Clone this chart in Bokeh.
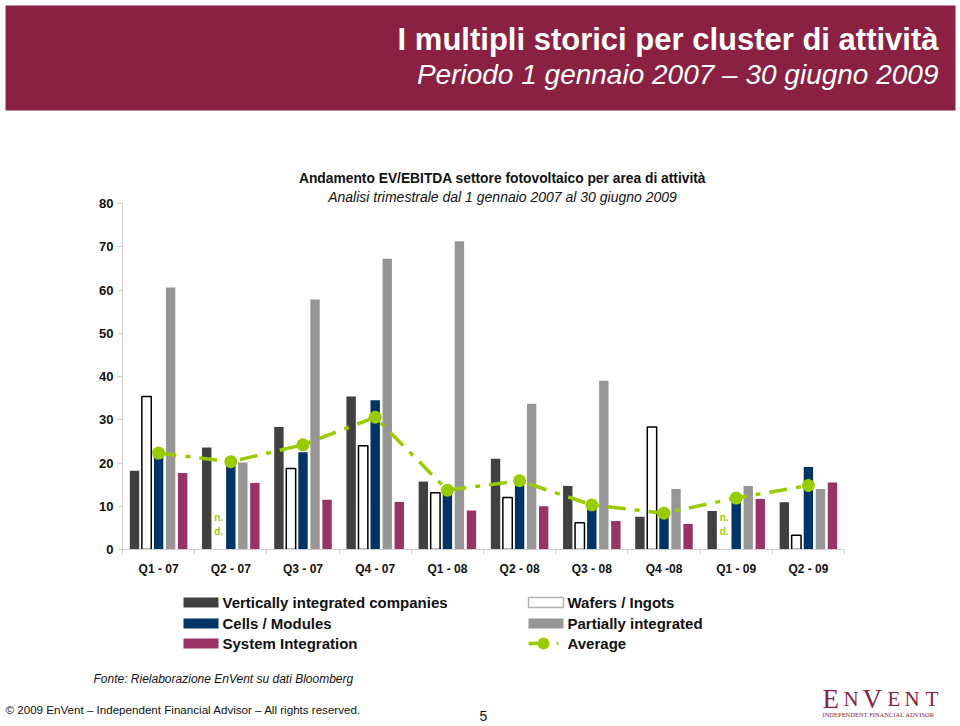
import numpy as np
from bokeh.plotting import figure
from bokeh.models import (Range1d, LinearAxis, FixedTicker, Label, BoxAnnotation,
                          ColumnDataSource)
from bokeh.layouts import column
from bokeh.transform import dodge
from bokeh.core.properties import value
from bokeh.embed import file_html
from bokeh.resources import INLINE

# ---------------- data ----------------
categories = ["Q1 - 07", "Q2 - 07", "Q3 - 07", "Q4 - 07", "Q1 - 08",
              "Q2 - 08", "Q3 - 08", "Q4 -08", "Q1 - 09", "Q2 - 09"]
vertically_integrated = [18.2, 23.6, 28.3, 35.4, 15.7, 21.0, 14.7, 7.6, 8.9, 10.9]
wafers_ingots = [35.4, None, 18.7, 24.0, 13.1, 12.0, 6.2, 28.3, None, 3.3]
cells_modules = [23.2, 20.0, 22.5, 34.5, 13.5, 15.6, 10.0, 8.3, 11.9, 19.1]
partially_integrated = [60.6, 20.1, 57.8, 67.2, 71.3, 33.7, 39.0, 14.0, 14.7, 14.0]
system_integration = [17.7, 15.4, 11.5, 11.0, 9.0, 10.0, 6.6, 5.9, 11.7, 15.5]
average = [22.3, 20.3, 24.2, 30.6, 13.7, 15.9, 10.3, 8.4, 11.9, 14.8]
y_ticks = [0, 10, 20, 30, 40, 50, 60, 70, 80]

# ---------------- styles ----------------
W = 960
TOTAL_H = 726
MAROON = "#8B2142"
C_VI = "#404040"
C_CELLS = "#003366"
C_PART = "#969696"
C_SYS = "#993366"
GREEN = "#99CC00"
AXIS = "#d0d0d0"
FONT = "Liberation Sans"
NARROW = "Liberation Sans Narrow, Liberation Sans, Arial"
SERIF = "Liberation Serif"


def blank(height):
    f = figure(width=W, height=height, x_range=Range1d(0, W), y_range=Range1d(height, 0),
               x_axis_type=None, y_axis_type=None, toolbar_location=None,
               output_backend="svg", min_border=0, outline_line_color=None,
               frame_align=False)
    f.grid.visible = False
    f.background_fill_color = "white"
    f.border_fill_color = "white"
    return f


# ---------------- header ----------------
HH = 120
hdr = blank(HH)
hdr.add_layout(BoxAnnotation(left=5, right=955, top=5, bottom=110, fill_color=MAROON,
                             fill_alpha=1, line_color=None))
hdr.add_layout(Label(x=938, y=39, text="I multipli storici per cluster di attività",
                     text_align="right", text_baseline="middle", text_color="white",
                     text_font=NARROW, text_font_style="bold", text_font_size="31px"))
hdr.add_layout(Label(x=938, y=74, text="Periodo 1 gennaio 2007 \u2013 30 giugno 2009",
                     text_align="right", text_baseline="middle", text_color="white",
                     text_font=NARROW, text_font_style="italic", text_font_size="28px"))

# ---------------- chart ----------------
CH = 465
n = len(categories)
frame_h = CH - 36
px_per_unit = (frame_h - 83) / 80.0
ymax = frame_h / px_per_unit

ch = figure(width=W, height=CH, x_range=Range1d(-0.5, n - 0.5), y_range=Range1d(0, ymax),
            x_axis_type=None, y_axis_type=None, toolbar_location=None, output_backend="svg",
            min_border_left=122, min_border_right=116, min_border_top=0, min_border_bottom=36,
            outline_line_color=None, frame_align=False)
ch.grid.visible = False

def arr(v):
    return np.array([np.nan if x is None else x for x in v], dtype=float)

src = ColumnDataSource(dict(
    x=np.arange(n),
    vi=arr(vertically_integrated),
    wa=arr(wafers_ingots),
    ce=arr(cells_modules),
    pa=arr(partially_integrated),
    sy=arr(system_integration),
    avg=arr(average),
))

BW = 0.13
step = 1 / 6
ch.vbar(x=dodge("x", -2 * step, range=ch.x_range), top="vi", width=BW, source=src,
        fill_color=C_VI, line_color=None)
ch.vbar(x=dodge("x", -step, range=ch.x_range), top="wa", width=BW, source=src,
        fill_color="white", line_color="black", line_width=1.5)
ch.vbar(x=dodge("x", 0, range=ch.x_range), top="ce", width=BW, source=src,
        fill_color=C_CELLS, line_color=None)
ch.vbar(x=dodge("x", step, range=ch.x_range), top="pa", width=BW, source=src,
        fill_color=C_PART, line_color=None)
ch.vbar(x=dodge("x", 2 * step, range=ch.x_range), top="sy", width=BW, source=src,
        fill_color=C_SYS, line_color=None)

ch.line(x="x", y="avg", source=src, line_color=GREEN, line_width=3.5, line_dash="18 9 5 9")
ch.scatter(x="x", y="avg", source=src, size=13, fill_color=GREEN, line_color=None)

# n.d. labels where wafers data missing
nd_idx = [i for i, v in enumerate(wafers_ingots) if v is None]
nd_src = ColumnDataSource(dict(x=nd_idx, y=[5.7] * len(nd_idx), t=["n.\nd."] * len(nd_idx)))
ch.text(x=dodge("x", -step, range=ch.x_range), y="y", text="t", source=nd_src,
        text_color=GREEN, text_font=value(FONT), text_font_style="bold",
        text_font_size="10px", text_align="center", text_baseline="middle",
        text_line_height=1.3)

yaxis = LinearAxis(bounds=(0, 80), ticker=FixedTicker(ticks=y_ticks),
                   axis_line_color=AXIS, major_tick_line_color=AXIS, major_tick_out=5,
                   major_tick_in=0, minor_tick_line_color=None,
                   major_label_text_font=FONT, major_label_text_font_style="bold",
                   major_label_text_font_size="13px", major_label_text_color="#111111",
                   major_label_standoff=4)
ch.add_layout(yaxis, "left")

xaxis = LinearAxis(ticker=FixedTicker(ticks=list(range(n)),
                                      minor_ticks=[i - 0.5 for i in range(n + 1)]),
                   major_label_overrides={i: c for i, c in enumerate(categories)},
                   axis_line_color=AXIS, major_tick_line_color=None, major_tick_out=0,
                   major_tick_in=0, minor_tick_line_color=AXIS, minor_tick_out=5,
                   minor_tick_in=0, major_label_text_font=FONT,
                   major_label_text_font_style="bold", major_label_text_font_size="12px",
                   major_label_text_color="#111111", major_label_standoff=7)
ch.add_layout(xaxis, "below")

title_x = (502 - 122) / (722 / n) - 0.5
ch.add_layout(Label(x=title_x, y=(frame_h - 58) / px_per_unit,
                    text="Andamento EV/EBITDA settore fotovoltaico per area di attività",
                    text_align="center", text_baseline="middle", text_font=FONT,
                    text_font_style="bold", text_font_size="13.8px", text_color="#111111"))
ch.add_layout(Label(x=title_x, y=(frame_h - 76) / px_per_unit,
                    text="Analisi trimestrale dal 1 gennaio 2007 al 30 giugno 2009",
                    text_align="center", text_baseline="middle", text_font=FONT,
                    text_font_style="italic", text_font_size="14px", text_color="#111111"))

# ---------------- bottom: legend + footer ----------------
BH = TOTAL_H - HH - CH
bot = blank(BH)

rows = [17, 38, 58]
left_items = [("Vertically integrated companies", C_VI), ("Cells / Modules", C_CELLS),
              ("System Integration", C_SYS)]
right_items = [("Wafers / Ingots", "white"), ("Partially integrated", C_PART)]

for (label, col), yy in zip(left_items, rows):
    bot.add_layout(BoxAnnotation(left=183, right=218, top=yy - 5, bottom=yy + 5,
                                 fill_color=col, fill_alpha=1, line_color=None))
    bot.add_layout(Label(x=222, y=yy, text=label, text_baseline="middle", text_font=FONT,
                         text_font_style="bold", text_font_size="15px", text_color="#111111"))
for (label, col), yy in zip(right_items, rows[:2]):
    bot.add_layout(BoxAnnotation(left=528, right=563, top=yy - 5, bottom=yy + 5,
                                 fill_color=col, fill_alpha=1,
                                 line_color="black" if col == "white" else None,
                                 line_width=1.5))
    bot.add_layout(Label(x=567, y=yy, text=label, text_baseline="middle", text_font=FONT,
                         text_font_style="bold", text_font_size="15px", text_color="#111111"))
yy = rows[2]
bot.line(x=[528, 544], y=[yy, yy], line_color=GREEN, line_width=3.5)
bot.scatter(x=[543], y=[yy], size=12, fill_color=GREEN, line_color=None)
bot.line(x=[556, 558], y=[yy, yy], line_color=GREEN, line_width=2.5)
bot.add_layout(Label(x=567, y=yy, text="Average", text_baseline="middle", text_font=FONT,
                     text_font_style="bold", text_font_size="15px", text_color="#111111"))

bot.add_layout(Label(x=93, y=93, text="Fonte: Rielaborazione EnVent su dati Bloomberg",
                     text_baseline="middle", text_font=FONT, text_font_style="italic",
                     text_font_size="12px", text_color="#111111"))
bot.add_layout(Label(x=5, y=124, text="\u00a9 2009 EnVent \u2013 Independent Financial Advisor \u2013 All rights reserved.",
                     text_baseline="middle", text_font=FONT, text_font_size="11.6px",
                     text_color="#111111"))
bot.add_layout(Label(x=483, y=130, text="5", text_align="center", text_baseline="middle",
                     text_font=FONT, text_font_size="14px", text_color="#111111"))

# logo
logo_letters = [("E", 822, 27), ("N", 843, 21), ("V", 862, 27), ("E", 887, 21),
                ("N", 904, 21), ("T", 925, 21)]
for ch_, lx, fs in logo_letters:
    bot.add_layout(Label(x=lx, y=113, text=ch_, text_baseline="middle", text_font=SERIF,
                         text_font_size=f"{fs}px", text_color=MAROON))
bot.add_layout(Label(x=822, y=129, text="INDEPENDENT FINANCIAL ADVISOR", text_baseline="middle",
                     text_font=SERIF, text_font_size="6.5px", text_color=MAROON))

layout = column(hdr, ch, bot, spacing=0)
open("out.html", "w").write(file_html(layout, INLINE))
